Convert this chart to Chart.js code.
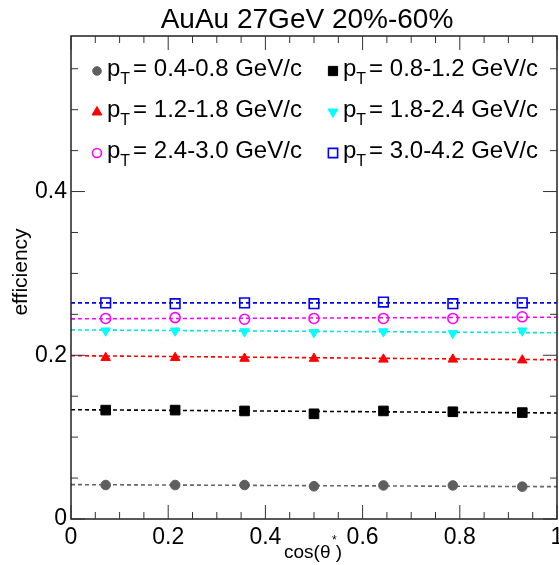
<!DOCTYPE html>
<html>
<head>
<meta charset="utf-8">
<script src="https://cdn.jsdelivr.net/npm/chart.js@4"></script>
<style>
  html, body { margin: 0; padding: 0; background: #fff; }
  #wrap { width: 559px; height: 565px; }
</style>
</head>
<body>
<div id="wrap"><canvas id="c" width="559" height="565"></canvas></div>
<script>
// bin centres in cos(theta*)
const cosBins = [0.0714, 0.2143, 0.3571, 0.5, 0.6429, 0.7857, 0.9286];

// efficiency per pT bin
const eff04 = [0.0415, 0.0415, 0.0415, 0.040, 0.041, 0.041, 0.0395];
const eff08 = [0.133, 0.133, 0.132, 0.1285, 0.132, 0.131, 0.130];
const eff12 = [0.197, 0.197, 0.196, 0.196, 0.195, 0.195, 0.194];
const eff18 = [0.230, 0.230, 0.229, 0.228, 0.229, 0.227, 0.230];
const eff24 = [0.245, 0.246, 0.244, 0.245, 0.245, 0.245, 0.247];
const eff30 = [0.264, 0.263, 0.264, 0.263, 0.265, 0.263, 0.264];

// linear fit values at cos=0 and cos=1
const fitStart = [0.042, 0.1335, 0.1995, 0.231, 0.2445, 0.264];
const fitEnd   = [0.0395, 0.1295, 0.1945, 0.2275, 0.2465, 0.264];

const ptLabels = ['0.4-0.8', '0.8-1.2', '1.2-1.8', '1.8-2.4', '2.4-3.0', '3.0-4.2'];
const yTickLabels = [0, 0.2, 0.4];
const xTickLabels = [0, 0.2, 0.4, 0.6, 0.8, 1];

const series = [eff04, eff08, eff12, eff18, eff24, eff30];
const colors = ['#5e5e5e', '#000000', '#ff0000', '#00ffff', '#ff00ff', '#0000ff'];
const lineColors = ['#666666', '#000000', '#ff0000', '#00e5e5', '#ff00ff', '#0000ff'];
const styles = [
  { s: 'circle', r: 4.8, fill: true, rot: 0 },
  { s: 'rect', r: 6.8, fill: true, rot: 0 },
  { s: 'triangle', r: 5.5, fill: true, rot: 0 },
  { s: 'triangle', r: 5.5, fill: true, rot: 180 },
  { s: 'circle', r: 5, fill: false, rot: 0 },
  { s: 'rect', r: 6.8, fill: false, rot: 0 }
];

const FONT = '"Liberation Sans", Arial, Helvetica, sans-serif';

const datasets = [];
series.forEach((vals, i) => {
  datasets.push({
    type: 'line',
    data: [{ x: 0, y: fitStart[i] }, { x: 1, y: fitEnd[i] }],
    borderColor: lineColors[i],
    borderWidth: 1.6,
    borderDash: [4, 3],
    pointRadius: 0,
    order: 2
  });
  datasets.push({
    type: 'scatter',
    data: cosBins.map((x, k) => ({ x: x, y: vals[k] })),
    pointStyle: styles[i].s,
    pointRadius: styles[i].r,
    pointRotation: styles[i].rot,
    pointBorderWidth: styles[i].fill ? 1 : 1.6,
    pointBackgroundColor: styles[i].fill ? colors[i] : 'rgba(0,0,0,0)',
    pointBorderColor: colors[i],
    order: 1
  });
});

function marker(ctx, st, color, x, y) {
  ctx.save();
  ctx.strokeStyle = color;
  ctx.fillStyle = color;
  ctx.lineWidth = st.fill ? 1 : 1.6;
  ctx.beginPath();
  if (st.s === 'circle') {
    ctx.arc(x, y, st.r - 0.5, 0, Math.PI * 2);
  } else if (st.s === 'rect') {
    const h = st.r * 0.68;
    ctx.rect(x - h, y - h, 2 * h, 2 * h);
  } else {
    const r = st.r;
    const d = st.rot ? -1 : 1;
    ctx.moveTo(x, y - d * r);
    ctx.lineTo(x + r * 0.9, y + d * r * 0.55);
    ctx.lineTo(x - r * 0.9, y + d * r * 0.55);
    ctx.closePath();
  }
  if (st.fill) ctx.fill();
  ctx.stroke();
  ctx.restore();
}

const framePlugin = {
  id: 'frame',
  afterDraw(chart) {
    const ctx = chart.ctx;
    const a = chart.chartArea;
    const xs = chart.scales.x, ys = chart.scales.y;
    ctx.save();
    ctx.strokeStyle = '#222';
    ctx.lineWidth = 1.5;
    ctx.strokeRect(a.left, a.top, a.right - a.left, a.bottom - a.top);

    // ticks on all sides, pointing inward
    ctx.lineWidth = 1;
    ctx.strokeStyle = '#333';
    ctx.beginPath();
    for (let k = 0; k <= 20; k++) {
      const v = k * 0.05;
      const len = (k % 4 === 0) ? 14 : 7;
      const px = xs.getPixelForValue(v);
      ctx.moveTo(px, a.bottom); ctx.lineTo(px, a.bottom - len);
      ctx.moveTo(px, a.top); ctx.lineTo(px, a.top + len);
    }
    for (let k = 0; k <= 11; k++) {
      const v = k * 0.05;
      const len = (k % 4 === 0) ? 14 : 7;
      const py = ys.getPixelForValue(v);
      ctx.moveTo(a.left, py); ctx.lineTo(a.left + len, py);
      ctx.moveTo(a.right, py); ctx.lineTo(a.right - len, py);
    }
    ctx.stroke();

    // title
    ctx.fillStyle = '#000';
    ctx.textAlign = 'center';
    ctx.textBaseline = 'middle';
    ctx.font = '28px ' + FONT;
    ctx.fillText('AuAu 27GeV 20%-60%', 307, 20);

    // axis titles
    ctx.font = '19px ' + FONT;
    ctx.textAlign = 'left';
    ctx.fillText('cos(\u03B8 )', 284, 553);
    ctx.font = '12px ' + FONT;
    ctx.fillText('*', 332, 541);

    ctx.save();
    ctx.translate(21, 272);
    ctx.rotate(-Math.PI / 2);
    ctx.font = '21px ' + FONT;
    ctx.textAlign = 'center';
    ctx.fillText('efficiency', 0, 0);
    ctx.restore();

    // legend
    const cols = [97, 333];
    const rows = [69, 110, 151];
    ptLabels.forEach((lab, i) => {
      const cx = cols[i % 2], cy = rows[Math.floor(i / 2)];
      marker(ctx, styles[i], colors[i], cx, cy + 2);
      let tx = cx + 10;
      ctx.fillStyle = '#000';
      ctx.textAlign = 'left';
      ctx.textBaseline = 'middle';
      ctx.font = '24px ' + FONT;
      ctx.fillText('p', tx, cy);
      tx += ctx.measureText('p').width;
      ctx.font = '16px ' + FONT;
      ctx.fillText('T', tx, cy + 11);
      tx += ctx.measureText('T').width + 3;
      ctx.font = '24px ' + FONT;
      ctx.fillText('= ' + lab + ' GeV/c', tx, cy);
    });
    ctx.restore();
  }
};

new Chart(document.getElementById('c'), {
  data: { datasets: datasets },
  options: {
    responsive: false,
    animation: false,
    layout: { autoPadding: false, padding: { top: 36, right: 2, left: 0, bottom: 0 } },
    plugins: { legend: { display: false }, title: { display: false }, tooltip: { enabled: false } },
    scales: {
      x: {
        type: 'linear',
        min: 0, max: 1,
        afterBuildTicks: s => { s.ticks = xTickLabels.map(v => ({ value: v })); },
        afterFit: s => { s.height = 46; s.paddingRight = 0; s.paddingLeft = 0; },
        grid: { display: false, drawTicks: false },
        border: { display: false },
        ticks: {
          padding: 5,
          color: '#000',
          font: { family: FONT, size: 23 },
          callback: v => String(v),
          maxRotation: 0
        }
      },
      y: {
        type: 'linear',
        min: 0, max: 0.59,
        afterBuildTicks: s => { s.ticks = yTickLabels.map(v => ({ value: v })); },
        afterFit: s => { s.width = 71; s.paddingTop = 0; s.paddingBottom = 0; s.paddingRight = 0; },
        grid: { display: false, drawTicks: false },
        border: { display: false },
        ticks: {
          padding: 4,
          color: '#000',
          font: { family: FONT, size: 23 },
          callback: v => String(v)
        }
      }
    }
  },
  plugins: [framePlugin]
});
</script>
</body>
</html>
